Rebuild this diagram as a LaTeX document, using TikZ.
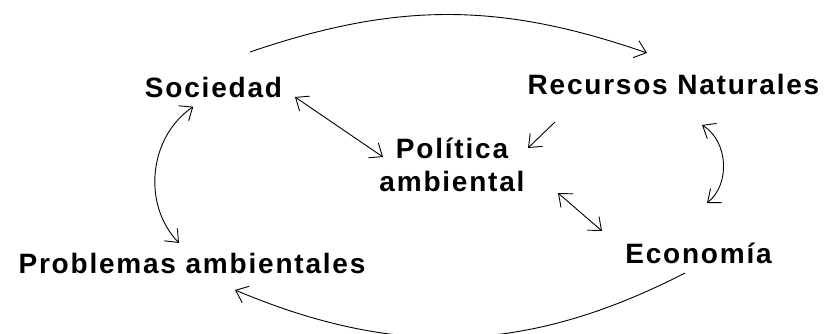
\documentclass[tikz,border=0pt]{standalone}
\usepackage{fontspec}
\setmainfont[LetterSpace=6.4]{Liberation Sans}
\usetikzlibrary{arrows.meta}

\tikzset{
	concept/.style={font=\bfseries\fontsize{28}{33.6}\selectfont, inner sep=0pt},
	>={Straight Barb[length=11pt,width=18pt]}
}

\begin{document}
\begin{tikzpicture}[x=1pt, y=-1pt, line width=0.9pt]
		\clip (0,0) rectangle (829,334);
		\node[concept, anchor=base] (soc) at (213.5,98) {Sociedad};
		\node[concept, anchor=base] (rec) at (673.5,95) {Recursos Naturales};
		\node[concept, align=center] (pol) at (452,164.7) {Política\\ambiental};
		\node[concept, anchor=base] (eco) at (698.5,263) {Economía};
		\node[concept, anchor=base] (prob) at (192,273) {Problemas ambientales};
		% outer cycle
		\draw[->] ([shift={(36.5,-46)}]soc.base) to[bend left=19] ([shift={(-26.5,-42)}]rec.base);
		\draw[<->] ([shift={(28.5,30)}]rec.base) to[bend left=55] ([shift={(8.5,-60)}]eco.base);
		\draw[->] ([shift={(-13.5,10)}]eco.base) to[bend left=25] ([shift={(43,17)}]prob.base);
		\draw[<->] ([shift={(-20.2,8.7)}]soc.base) to[bend right=50] ([shift={(-13,-30)}]prob.base);
		% into the policy
		\draw[<->] ([shift={(81.5,-1)}]soc.base) -- ([shift={(-69,-7.7)}]pol.center);
		\draw[->] ([shift={(-118.5,27)}]rec.base) -- ([shift={(76,-16.7)}]pol.center);
		\draw[<->] ([shift={(106,28.3)}]pol.center) -- ([shift={(-96.5,-32)}]eco.base);
		%\draw[<->] (prob) -- (pol);
\end{tikzpicture}
\end{document}
